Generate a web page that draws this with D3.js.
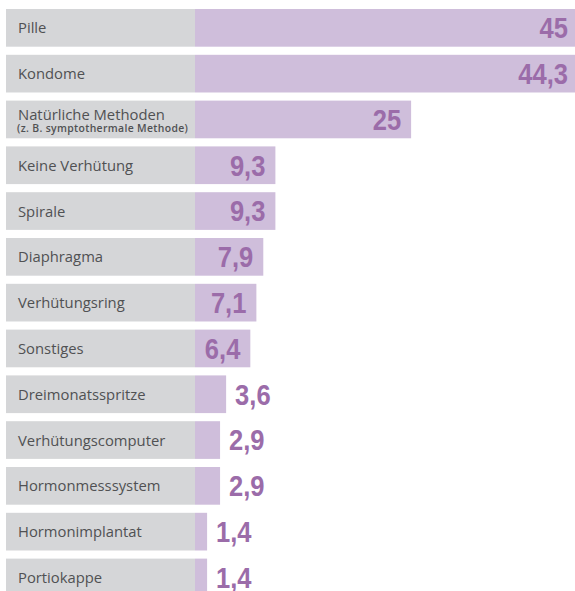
<!DOCTYPE html>
<html>
<head>
<meta charset="utf-8">
<script src="https://cdn.jsdelivr.net/npm/d3@7"></script>
<style>
  body { margin: 0; padding: 0; background: #fff; }
  svg { display: block; }
</style>
</head>
<body>
<script>
const width = 575;
const height = 591;

// categories, sub-label and values (percent)
const methods = [
    "Pille", "Kondome", "Natürliche Methoden", "Keine Verhütung", "Spirale",
    "Diaphragma", "Verhütungsring", "Sonstiges", "Dreimonatsspritze",
    "Verhütungscomputer", "Hormonmesssystem", "Hormonimplantat", "Portiokappe"
];
const subLabels = ["", "", "(z. B. symptothermale Methode)", "", "", "", "", "", "", "", "", "", ""];
const values = [45, 44.3, 25, 9.3, 9.3, 7.9, 7.1, 6.4, 3.6, 2.9, 2.9, 1.4, 1.4];

const labelLeft = 6;
const barLeft = 195;
const squeeze = 0.88;   // narrow the bold figures horizontally

const fmt = v => String(v).replace(".", ",");

const svg = d3.select("body")
    .append("svg")
    .attr("width", width)
    .attr("height", height);

const x = d3.scaleLinear()
    .domain([0, 45])
    .range([barLeft, 584]);

const y = d3.scaleBand()
    .domain(methods)
    .range([9, 596.3])
    .paddingInner(0.177)
    .paddingOuter(0);

const rows = svg.selectAll("g.row")
    .data(methods.map((m, i) => ({ name: m, sub: subLabels[i], value: values[i] })))
    .enter()
    .append("g")
    .attr("class", "row")
    .attr("transform", d => "translate(0," + y(d.name) + ")");

// gray label box
rows.append("rect")
    .attr("x", labelLeft)
    .attr("width", barLeft - labelLeft)
    .attr("height", y.bandwidth())
    .attr("fill", "#d5d6d8");

// purple bar
rows.append("rect")
    .attr("x", barLeft)
    .attr("width", d => x(d.value) - barLeft)
    .attr("height", y.bandwidth())
    .attr("fill", "#cfbedb");

// category label
rows.each(function(d) {
    const g = d3.select(this);
    const mid = y.bandwidth() / 2;
    if (d.sub) {
        g.append("text")
            .attr("x", 18)
            .attr("y", mid + 0.3)
            .attr("font-family", "'Open Sans', sans-serif")
            .attr("font-size", 14.8)
            .attr("fill", "#505153")
            .text(d.name);
        g.append("text")
            .attr("x", 17)
            .attr("y", mid + 12.8)
            .attr("font-family", "'Open Sans', sans-serif")
            .attr("font-size", 10.4)
            .attr("letter-spacing", 0.35)
            .attr("font-weight", 600)
            .attr("fill", "#505153")
            .text(d.sub);
    } else {
        g.append("text")
            .attr("x", 18)
            .attr("y", mid + 5.5)
            .attr("font-family", "'Open Sans', sans-serif")
            .attr("font-size", 14.8)
            .attr("fill", "#505153")
            .text(d.name);
    }
});

// value label: inside the bar if there is room, otherwise after it
rows.append("text")
    .attr("transform", d => {
        const tx = d.value >= 5 ? Math.min(x(d.value) - 10, width - 7) : x(d.value) + 9;
        return "translate(" + tx + "," + (y.bandwidth() / 2 + 10.3) + ") scale(" + squeeze + ",1)";
    })
    .attr("text-anchor", d => d.value >= 5 ? "end" : "start")
    .attr("font-family", "'Liberation Sans', Arial, sans-serif")
    .attr("font-weight", "bold")
    .attr("font-size", 29)
    .attr("fill", "#9b6ca9")
    .text(d => fmt(d.value));
</script>
</body>
</html>
